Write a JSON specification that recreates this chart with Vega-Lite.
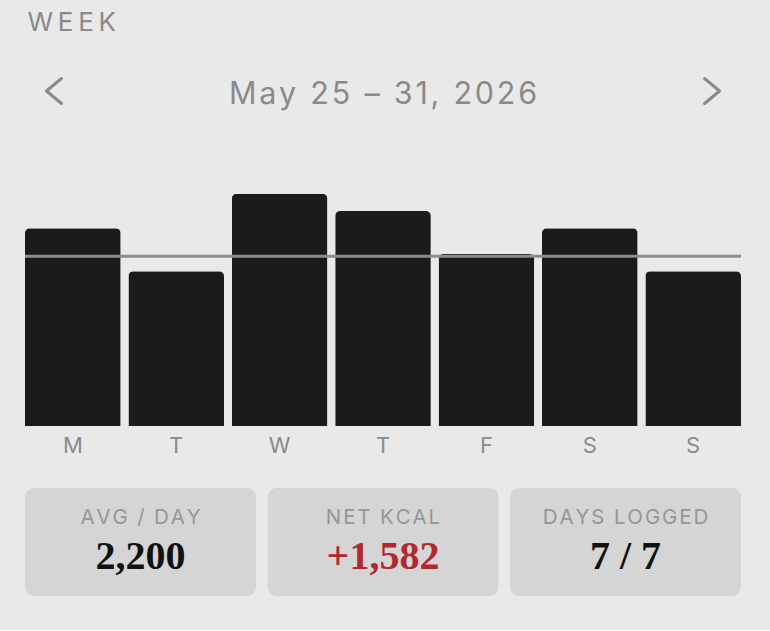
{
  "$schema": "https://vega.github.io/schema/vega-lite/v6.json",
  "background": "#e9e9e9",
  "padding": {"top": 10, "left": 23, "right": 31, "bottom": 34},
  "title": {"text": "W\u200a\u200aE\u200a\u200aE\u200a\u200aK", "anchor": "start", "fontSize": 26, "fontWeight": 400, "color": "#8a8a8a", "font": "Inter", "offset": 12, "dx": 4, "dy": 2},
  "config": {"view": {"stroke": null}, "font": "Inter", "concat": {"spacing": 32}},
  "vconcat": [
    {
      "width": 716,
      "height": 90,
      "data": {"values": [
        {"item": "prev", "label": ""},
        {"item": "date", "label": "May 25 – 31, 2026"},
        {"item": "next", "label": ""}
      ]},
      "encoding": {
        "x": {"field": "item", "type": "nominal", "scale": {"type": "point", "domain": ["prev", "date", "next"], "padding": 0.088}, "axis": null}
      },
      "layer": [
        {
          "transform": [{"filter": "datum.item !== 'date'"}],
          "mark": {"type": "point", "filled": false, "strokeWidth": 3, "strokeCap": "round", "strokeJoin": "round", "size": 625, "color": "#8a8a8a", "opacity": 1, "dy": 1},
          "encoding": {
            "shape": {"field": "item", "type": "nominal", "scale": {"domain": ["prev", "next"], "range": ["M 0.6 -1 L -0.6 0 L 0.6 1", "M -0.6 -1 L 0.6 0 L -0.6 1"]}, "legend": null}
          }
        },
        {
          "transform": [{"filter": "datum.item === 'date'"}, {"calculate": "join(split(datum.label, ''), '\u200a')", "as": "spaced"}],
          "mark": {"type": "text", "fontSize": 30.5, "color": "#8a8a8a", "dy": 4},
          "encoding": {"text": {"field": "spaced"}}
        }
      ]
    },
    {
      "width": 716,
      "height": 258,
      "data": {"values": [
        {"day": "Mon", "kcal": 2300, "target": 1974},
        {"day": "Tue", "kcal": 1800, "target": 1974},
        {"day": "Wed", "kcal": 2700, "target": 1974},
        {"day": "Thu", "kcal": 2500, "target": 1974},
        {"day": "Fri", "kcal": 2000, "target": 1974},
        {"day": "Sat", "kcal": 2300, "target": 1974},
        {"day": "Sun", "kcal": 1800, "target": 1974}
      ]},
      "layer": [
        {
          "mark": {"type": "bar", "color": "#1b1b1b", "cornerRadiusTopLeft": 5, "cornerRadiusTopRight": 5},
          "encoding": {
            "x": {"field": "day", "type": "nominal", "sort": null, "scale": {"paddingInner": 0.075, "paddingOuter": 0},
              "axis": {"title": null, "domain": false, "ticks": false, "labelAngle": 0, "labelExpr": "substring(datum.label, 0, 1)", "labelFontSize": 22, "labelColor": "#8a8a8a", "labelPadding": 9, "labelFont": "Inter"}},
            "y": {"field": "kcal", "type": "quantitative", "scale": {"domain": [0, 3000]}, "axis": null}
          }
        },
        {
          "mark": {"type": "rule", "color": "#8c8c8c", "strokeWidth": 3},
          "encoding": {"y": {"field": "target", "aggregate": "mean", "type": "quantitative"}}
        }
      ]
    },
    {
      "width": 716,
      "height": 108,
      "data": {"values": [
        {"stat": "AVG / DAY", "value": "2,200"},
        {"stat": "NET KCAL", "value": "+1,582"},
        {"stat": "DAYS LOGGED", "value": "7 / 7"}
      ]},
      "transform": [{"calculate": "join(split(datum.stat, ''), '\u200a')", "as": "spaced"}],
      "encoding": {
        "x": {"field": "stat", "type": "nominal", "sort": null, "scale": {"paddingInner": 0.0474, "paddingOuter": 0}, "axis": null}
      },
      "layer": [
        {"mark": {"type": "bar", "color": "#d5d5d5", "cornerRadius": 9}},
        {
          "mark": {"type": "text", "fontSize": 20.5, "color": "#969696"},
          "encoding": {
            "text": {"field": "spaced"},
            "y": {"datum": "label", "type": "nominal", "scale": {"type": "point", "domain": ["label", "value"], "padding": 0.9025, "align": 0.432}, "axis": null}
          }
        },
        {
          "mark": {"type": "text", "fontSize": 40, "font": "Liberation Serif", "fontWeight": "bold"},
          "encoding": {
            "text": {"field": "value"},
            "y": {"datum": "value", "type": "nominal"},
            "color": {"field": "stat", "type": "nominal", "scale": {"domain": ["AVG / DAY", "NET KCAL", "DAYS LOGGED"], "range": ["#111111", "#b0292c", "#111111"]}, "legend": null}
          }
        }
      ]
    }
  ]
}
